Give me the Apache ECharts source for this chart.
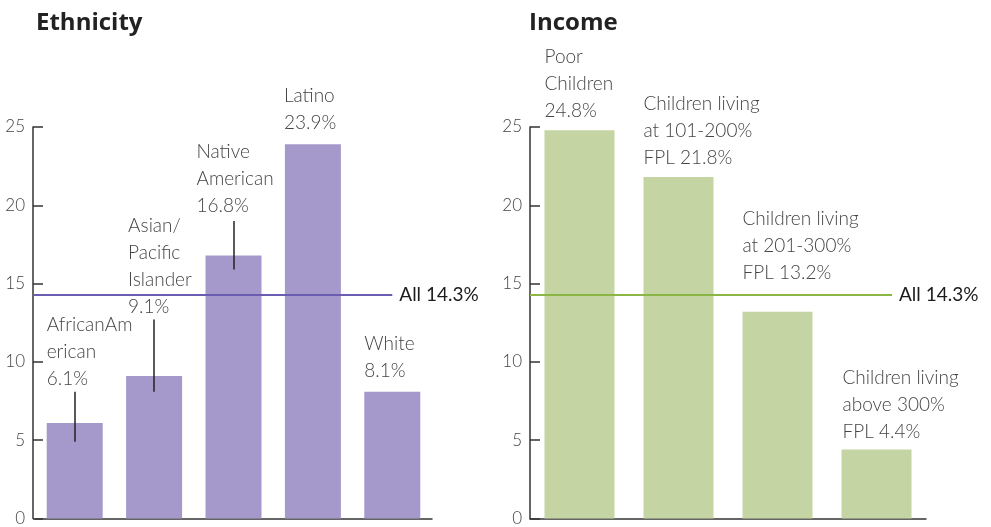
<!DOCTYPE html>
<html>
<head>
<meta charset="utf-8">
<script src="https://cdn.jsdelivr.net/npm/echarts@6/dist/echarts.min.js"></script>
<style>
html,body{margin:0;padding:0;background:#fff;}
#chart{width:991px;height:527px;}
</style>
</head>
<body>
<div id="chart"></div>
<script>
// ---- data ----
const ethCategories = ['African American', 'Asian/Pacific Islander', 'Native American', 'Latino', 'White'];
const ethValues = [6.1, 9.1, 16.8, 23.9, 8.1];
const ethLabelTemplates = ['AfricanAm\nerican\n{v}%', 'Asian/\nPacific\nIslander\n{v}%', 'Native\nAmerican\n{v}%', 'Latino\n{v}%', 'White\n{v}%'];
const ethLeaderRanges = [[4.9, 8.1], [8.1, 12.7], [15.9, 19.0], null, null];

const incCategories = ['Poor Children', 'Children living at 101-200% FPL', 'Children living at 201-300% FPL', 'Children living above 300% FPL'];
const incValues = [24.8, 21.8, 13.2, 4.4];
const incLabelTemplates = ['Poor\nChildren\n{v}%', 'Children living\nat 101-200%\nFPL {v}%', 'Children living\nat 201-300%\nFPL {v}%', 'Children living\nabove 300%\nFPL {v}%'];

const allValue = 14.3;
const allLabel = 'All 14.3%';
const yMin = 0, yMax = 25, yInterval = 5;
const titles = ['Ethnicity', 'Income'];

// ---- layout / style (not data) ----
const ethLabelOffsets = [[0, -31], [2, -56], [-9, -36], [-1, -8], [0, -7]];
const incLabelOffsets = [[0, -6], [0, -6], [0, -25], [1, -4.5]];
const layout = {
  left: { gridLeft: 35, gridWidth: 397, axisX: 33, barWidth: 56 },
  right: { gridLeft: 530, gridWidth: 396, axisX: 530, barWidth: 70, lineEndX: 892 }
};
const purple = '#a599cb', purpleLine = '#6a5cb0';
const green = '#c4d4a2', greenLine = '#8bb544';
const textColor = '#444';
const labelFont = 'Lato';

const chart = echarts.init(document.getElementById('chart'));

function yAxisCfg(gridIndex, offset) {
  return {
    type: 'value', gridIndex: gridIndex, min: yMin, max: yMax, interval: yInterval,
    offset: offset,
    axisLine: { show: true, lineStyle: { color: '#333', width: 1.5 } },
    axisTick: { show: true, inside: true, length: 10, lineStyle: { color: '#333', width: 1.5 } },
    splitLine: { show: false },
    axisLabel: { color: textColor, fontFamily: labelFont, fontWeight: 300, fontSize: 17, margin: 8 }
  };
}
function xAxisCfg(gridIndex, cats) {
  return {
    type: 'category', gridIndex: gridIndex, data: cats,
    axisLine: { show: true, lineStyle: { color: '#333', width: 1.5 } },
    axisTick: { show: false }, axisLabel: { show: false }, splitLine: { show: false }
  };
}
function barData(values, templates, offsets) {
  return values.map((v, i) => ({
    value: v,
    label: {
      position: offsets[i],
      formatter: templates[i].replace('{v}', String(v))
    }
  }));
}
const labelBase = {
  show: true, align: 'left', verticalAlign: 'bottom',
  color: textColor, fontFamily: labelFont, fontWeight: 300, fontSize: 19, lineHeight: 27
};
const allLineLabel = {
  show: true, position: 'end', distance: 7, formatter: allLabel,
  color: '#1c1c1c', fontFamily: labelFont, fontSize: 19
};

const ethMarkData = [
  [ { x: layout.left.axisX, yAxis: allValue }, { xAxis: ethCategories[ethCategories.length - 1], yAxis: allValue } ]
];
ethLeaderRanges.forEach((r, i) => {
  if (!r) return;
  ethMarkData.push([
    { coord: [ethCategories[i], r[0]], lineStyle: { color: '#222', width: 1.5 }, label: { show: false } },
    { coord: [ethCategories[i], r[1]] }
  ]);
});
const incMarkData = [
  [ { x: layout.right.axisX, yAxis: allValue }, { x: layout.right.lineEndX, yAxis: allValue } ]
];

const titleStyle = { fontFamily: 'Open Sans', fontWeight: 'bold', fontSize: 24, color: '#222' };
chart.setOption({
  animation: false,
  backgroundColor: '#fff',
  title: [
    { text: titles[0], left: 31, top: 6, textStyle: titleStyle },
    { text: titles[1], left: 524, top: 6, textStyle: titleStyle }
  ],
  grid: [
    { left: layout.left.gridLeft, width: layout.left.gridWidth, top: 127, bottom: 5, containLabel: false },
    { left: layout.right.gridLeft, width: layout.right.gridWidth, top: 127, bottom: 5, containLabel: false }
  ],
  xAxis: [xAxisCfg(0, ethCategories), xAxisCfg(1, incCategories)],
  yAxis: [yAxisCfg(0, layout.left.gridLeft - layout.left.axisX), yAxisCfg(1, 0)],
  series: [
    {
      type: 'bar', xAxisIndex: 0, yAxisIndex: 0, barWidth: layout.left.barWidth,
      itemStyle: { color: purple },
      label: labelBase,
      data: barData(ethValues, ethLabelTemplates, ethLabelOffsets),
      markLine: {
        silent: true, symbol: 'none', animation: false,
        lineStyle: { color: purpleLine, width: 2, type: 'solid' },
        label: allLineLabel,
        data: ethMarkData
      }
    },
    {
      type: 'bar', xAxisIndex: 1, yAxisIndex: 1, barWidth: layout.right.barWidth,
      itemStyle: { color: green },
      label: labelBase,
      data: barData(incValues, incLabelTemplates, incLabelOffsets),
      markLine: {
        silent: true, symbol: 'none', animation: false,
        lineStyle: { color: greenLine, width: 2, type: 'solid' },
        label: allLineLabel,
        data: incMarkData
      }
    }
  ]
});
</script>
</body>
</html>
